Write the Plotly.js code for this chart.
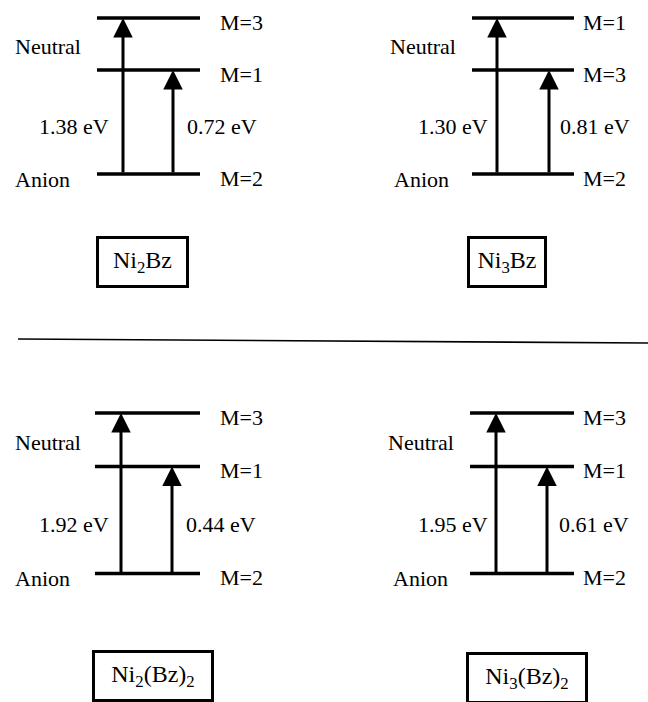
<!DOCTYPE html>
<html>
<head>
<meta charset="utf-8">
<script src="https://cdn.plot.ly/plotly-3.0.1.min.js"></script>
<style>html,body{margin:0;padding:0;background:#fff;}#chart{width:648px;height:702px;}</style>
</head>
<body>
<div id="chart"></div>
<script>
// ---- data ----
const clusters = ['Ni<sub>2</sub>Bz', 'Ni<sub>3</sub>Bz', 'Ni<sub>2</sub>(Bz)<sub>2</sub>', 'Ni<sub>3</sub>(Bz)<sub>2</sub>'];
const upperNeutralLabels = ['M=3', 'M=1', 'M=3', 'M=3'];
const lowerNeutralLabels = ['M=1', 'M=3', 'M=1', 'M=1'];
const anionLabels = ['M=2', 'M=2', 'M=2', 'M=2'];
const highEnergy = [1.38, 1.30, 1.92, 1.95];   // eV, anion -> upper neutral
const lowEnergy = [0.72, 0.81, 0.44, 0.61];    // eV, anion -> lower neutral
const levelNames = ['Anion', 'Neutral', 'Neutral'];
const levelHeights = [0, 2, 3];                // schematic: anion, lower neutral, upper neutral

// ---- panel geometry (layout only) ----
const geom = [
  {xdom:[0,0.5], ydom:[0.5151,0.99658], yr:[-3.2,3.3], lev:[97,200], arr:[123,173], neu:13, ani:13, m:218, eL:111, eR:185, bx:142, bw:87, by:-1.69},
  {xdom:[0.5,1], ydom:[0.5151,0.99658], yr:[-3.2,3.3], lev:[148,250], arr:[173,225], neu:64, ani:68, m:257, eL:166, eR:234, bx:183, bw:74, by:-1.69},
  {xdom:[0,0.5], ydom:[0,0.4498], yr:[-2.4,3.5], lev:[95,200], arr:[121,172], neu:13, ani:13, m:218, eL:111, eR:184, bx:152.5, bw:116, by:-1.92},
  {xdom:[0.5,1], ydom:[0,0.4498], yr:[-2.4,3.5], lev:[146,250], arr:[172,223], neu:62, ani:67, m:257, eL:166, eR:233, bx:202.5, bw:116, by:-1.96}
];

const FONT = {family: 'Liberation Serif', size: 22, color: '#000'};
const BOXFONT = {family: 'Liberation Serif', size: 24, color: '#000'};
const traces = [];
const annotations = [];
const layout = {
  width: 648, height: 702,
  margin: {l:0, r:0, t:0, b:0},
  paper_bgcolor: '#fff', plot_bgcolor: 'rgba(0,0,0,0)',
  showlegend: false,
  font: FONT,
  shapes: [{type:'line', xref:'paper', yref:'paper', x0: 18/648, x1: 1, y0: 1-339/702, y1: 1-343/702, line:{color:'#000', width:1.6}}]
};

clusters.forEach((name, i) => {
  const g = geom[i];
  const id = i === 0 ? '' : String(i + 1);
  const xa = 'x' + id, ya = 'y' + id;
  layout['xaxis' + id] = {domain: g.xdom, range: [0,324], visible: false, fixedrange: true};
  layout['yaxis' + id] = {domain: g.ydom, range: g.yr, visible: false, fixedrange: true};

  const mLabels = [anionLabels[i], lowerNeutralLabels[i], upperNeutralLabels[i]];
  levelHeights.forEach((h, k) => {
    traces.push({x: g.lev, y: [h, h], xaxis: xa, yaxis: ya, mode: 'lines',
      line: {color: '#000', width: 3.5}, hoverinfo: 'skip'});
    annotations.push({xref: xa, yref: ya, x: g.m, y: h - 0.08, text: mLabels[k],
      showarrow: false, xanchor: 'left', yanchor: 'middle', font: FONT});
  });

  // state labels
  annotations.push({xref: xa, yref: ya, x: g.neu, y: (levelHeights[1] + levelHeights[2]) / 2 - 0.05,
    text: levelNames[1], showarrow: false, xanchor: 'left', yanchor: 'middle', font: FONT});
  annotations.push({xref: xa, yref: ya, x: g.ani, y: levelHeights[0] - 0.1,
    text: levelNames[0], showarrow: false, xanchor: 'left', yanchor: 'middle', font: FONT});

  // transition arrows
  const targets = [levelHeights[2], levelHeights[1]];
  targets.forEach((t, k) => {
    annotations.push({xref: xa, yref: ya, axref: xa, ayref: ya,
      x: g.arr[k], y: t, ax: g.arr[k], ay: levelHeights[0],
      text: '', showarrow: true, arrowhead: 2, arrowsize: 1.3, arrowwidth: 3,
      arrowcolor: '#000', standoff: 0, startstandoff: 0});
  });

  // energy labels
  const ey = 0.92;
  annotations.push({xref: xa, yref: ya, x: g.eL, y: ey, text: highEnergy[i].toFixed(2) + ' eV',
    showarrow: false, xanchor: 'right', yanchor: 'middle', font: FONT});
  annotations.push({xref: xa, yref: ya, x: g.eR, y: ey, text: lowEnergy[i].toFixed(2) + ' eV',
    showarrow: false, xanchor: 'left', yanchor: 'middle', font: FONT});

  // cluster name box
  annotations.push({xref: xa, yref: ya, x: g.bx, y: g.by, text: name,
    showarrow: false, xanchor: 'center', yanchor: 'middle', font: BOXFONT,
    width: g.bw, height: 46, borderpad: 0, bordercolor: '#000', borderwidth: 3, align: 'center'});
});

layout.annotations = annotations;
Plotly.newPlot('chart', traces, layout, {staticPlot: true, displayModeBar: false});
</script>
</body>
</html>
